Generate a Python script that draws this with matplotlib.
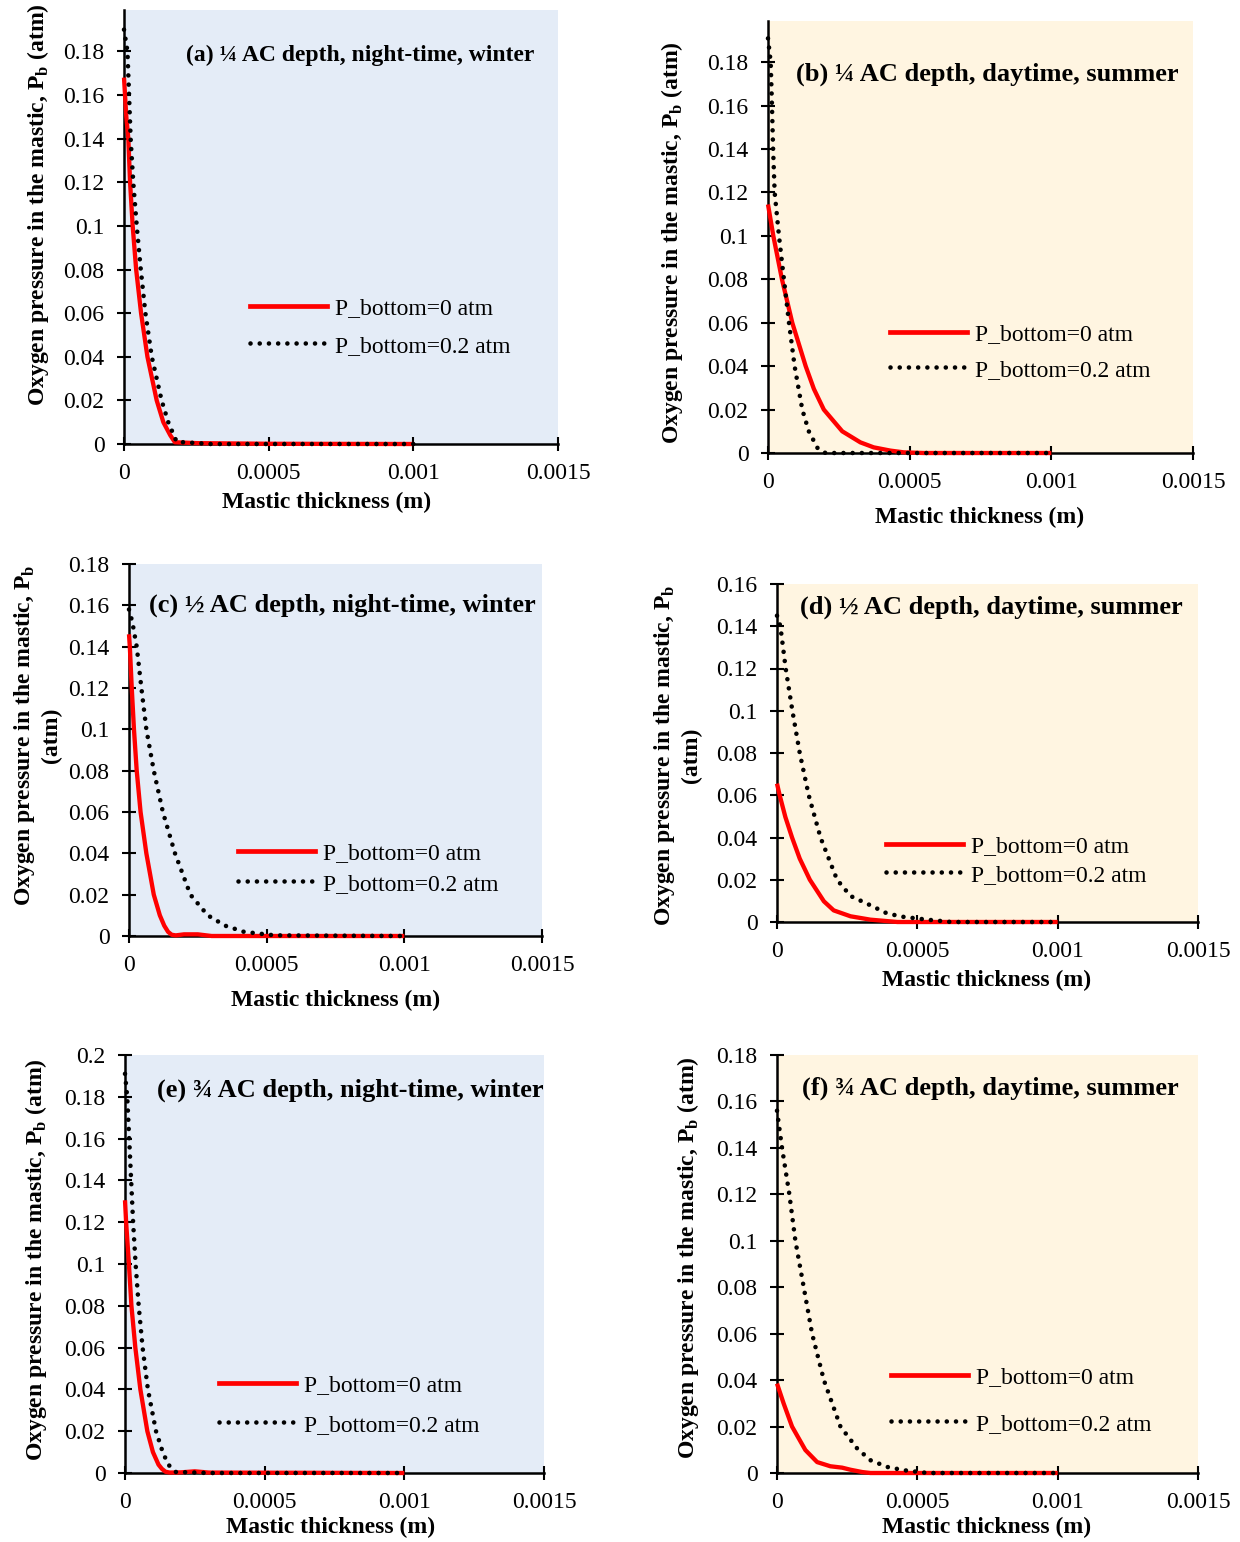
import numpy as np
import matplotlib
matplotlib.use('Agg')
import matplotlib.pyplot as plt
from matplotlib.lines import Line2D

plt.rcParams['font.family'] = ['Liberation Serif', 'DejaVu Serif']
plt.rcParams['mathtext.fontset'] = 'custom'
plt.rcParams['mathtext.rm'] = 'Liberation Serif'
plt.rcParams['mathtext.bf'] = 'Liberation Serif:bold'

W, H = 1240, 1542
FS = 17

# ---- data (x in m, P in atm) ----
red_x_a = [0, 0.000008, 0.000015, 0.000021, 0.00003, 0.000042, 0.000059, 0.000081, 0.000113, 0.000136, 0.00016, 0.000176, 0.00025, 0.0005, 0.001]
red_y_a = [0.168, 0.15, 0.14, 0.12, 0.10, 0.08, 0.06, 0.04, 0.02, 0.01, 0.004, 0.0008, 0.0004, 0.0001, 0]
blk_x_a = [0, 0.000012, 0.000023, 0.000032, 0.000044, 0.000058, 0.000074, 0.000096, 0.00013, 0.000153, 0.000182, 0.0003, 0.0006, 0.001]
blk_y_a = [0.19, 0.18, 0.14, 0.12, 0.10, 0.08, 0.06, 0.04, 0.02, 0.01, 0.001, 0, 0, 0]

red_x_b = [0, 0.0000188, 0.0000493, 0.0000857, 0.000133, 0.000162, 0.000197, 0.000262, 0.000326, 0.000373, 0.000432, 0.000479, 0.00055, 0.001]
red_y_b = [0.1145, 0.10, 0.08, 0.06, 0.04, 0.0295, 0.02, 0.01, 0.0049, 0.0026, 0.0011, 0.0003, 0, 0]
blk_x_b = [0, 0.0000095, 0.000014, 0.000018, 0.0000235, 0.0000387, 0.0000563, 0.000074, 0.0000939, 0.000121, 0.000144, 0.000176, 0.000203, 0.0003, 0.001]
blk_y_b = [0.191, 0.18, 0.16, 0.14, 0.12, 0.10, 0.08, 0.06, 0.04, 0.02, 0.01, 0.002, 0, 0, 0]

red_x_c = [0, 0.000003, 0.00001, 0.000018, 0.000028, 0.000042, 0.000063, 0.00009, 0.000112, 0.000128, 0.000142, 0.000155, 0.00017, 0.0002, 0.00025, 0.0003, 0.001]
red_y_c = [0.146, 0.14, 0.12, 0.10, 0.08, 0.06, 0.04, 0.02, 0.01, 0.005, 0.002, 0.0006, 0.0003, 0.0008, 0.0008, 0, 0]
blk_x_c = [0, 0.000012, 0.000028, 0.000045, 0.000063, 0.00009, 0.000123, 0.000167, 0.000223, 0.000286, 0.000349, 0.000418, 0.00053, 0.001]
blk_y_c = [0.158, 0.152, 0.14, 0.12, 0.10, 0.08, 0.06, 0.04, 0.02, 0.01, 0.005, 0.002, 0.0003, 0]

red_x_d = [0, 0.0000095, 0.0000298, 0.0000536, 0.000081, 0.000117, 0.000167, 0.000202, 0.000262, 0.000333, 0.000429, 0.001]
red_y_d = [0.0655, 0.06, 0.0497, 0.04, 0.03, 0.02, 0.0098, 0.0055, 0.0027, 0.0011, 0, 0]
blk_x_d = [0, 0.000012, 0.000031, 0.0000548, 0.000081, 0.000113, 0.000155, 0.000214, 0.000262, 0.000333, 0.000393, 0.000452, 0.000536, 0.00062, 0.001]
blk_y_d = [0.145, 0.14, 0.12, 0.10, 0.08, 0.06, 0.04, 0.02, 0.0123, 0.0079, 0.004, 0.0024, 0.0011, 0, 0]

red_x_e = [0, 0.000004, 0.000014, 0.000023, 0.000037, 0.000055, 0.00008, 0.0001, 0.00012, 0.000132, 0.000145, 0.00016, 0.0002, 0.00025, 0.0003, 0.001]
red_y_e = [0.1305, 0.12, 0.10, 0.08, 0.06, 0.04, 0.02, 0.01, 0.004, 0.002, 0.0006, 0.0002, 0.0003, 0.0008, 0.0002, 0]
blk_x_e = [0, 0.000008, 0.000015, 0.000022, 0.000029, 0.000038, 0.000049, 0.000063, 0.000082, 0.000111, 0.000135, 0.000155, 0.000182, 0.0003, 0.001]
blk_y_e = [0.191, 0.18, 0.16, 0.14, 0.12, 0.10, 0.08, 0.06, 0.04, 0.02, 0.01, 0.004, 0.0005, 0, 0]

red_x_f = [0, 0.0000238, 0.0000536, 0.000101, 0.000143, 0.00019, 0.000232, 0.000262, 0.000304, 0.000333, 0.001]
red_y_f = [0.0385, 0.0299, 0.02, 0.0099, 0.0047, 0.0029, 0.0023, 0.0014, 0.0004, 0, 0]
blk_x_f = [0, 0.0000179, 0.000044, 0.0000655, 0.0000952, 0.000125, 0.000167, 0.000226, 0.000286, 0.000333, 0.000393, 0.000452, 0.000536, 0.001]
blk_y_f = [0.156, 0.14, 0.12, 0.10, 0.08, 0.06, 0.04, 0.02, 0.0105, 0.0055, 0.0026, 0.0012, 0, 0]

x_ticks = [0, 0.0005, 0.001, 0.0015]
legend_labels = ['P_bottom=0 atm', 'P_bottom=0.2 atm']
titles = ['(a) \u00bc AC depth, night-time, winter',
          '(b) \u00bc AC depth, daytime, summer',
          '(c) \u00bd AC depth, night-time, winter',
          '(d) \u00bd AC depth, daytime, summer',
          '(e) \u00be AC depth, night-time, winter',
          '(f) \u00be AC depth, daytime, summer']
ylab1 = r'Oxygen pressure in the mastic, P$_\mathbf{b}$ (atm)'
ylab2 = 'Oxygen pressure in the mastic, P$_\\mathbf{b}$\n(atm)'
xlab = 'Mastic thickness (m)'

BLUE = '#E4ECF7'
CREAM = '#FFF5E1'

# layout in pixels: axes box (L, R, T, B), y max, y tick max, bg,
# title centre + size, ylabel centre, xlabel centre, legend (x, y of first row), row gap
panels = [
    dict(rx=red_x_a, ry=red_y_a, bx=blk_x_a, by=blk_y_a, box=(124, 558, 10, 444), ymax=0.199, ytop=0.18, bg=BLUE,
         title=(360, 55), tfs=17, ylab=ylab1, ylpos=(38, 205), xlpos=(327, 502), leg=(250, 307), gap=38),
    dict(rx=red_x_b, ry=red_y_b, bx=blk_x_b, by=blk_y_b, box=(768, 1193, 21, 453), ymax=0.199, ytop=0.18, bg=CREAM,
         title=(987, 74), tfs=19, ylab=ylab1, ylpos=(672, 243), xlpos=(980, 517), leg=(890, 333), gap=36),
    dict(rx=red_x_c, ry=red_y_c, bx=blk_x_c, by=blk_y_c, box=(129, 542, 564, 936), ymax=0.18, ytop=0.18, bg=BLUE,
         title=(342, 605), tfs=19, ylab=ylab2, ylpos=(37, 735), xlpos=(336, 1000), leg=(238, 852), gap=31),
    dict(rx=red_x_d, ry=red_y_d, bx=blk_x_d, by=blk_y_d, box=(777, 1198, 584, 922), ymax=0.16, ytop=0.16, bg=CREAM,
         title=(991, 607), tfs=19, ylab=ylab2, ylpos=(677, 755), xlpos=(987, 980), leg=(886, 845), gap=29),
    dict(rx=red_x_e, ry=red_y_e, bx=blk_x_e, by=blk_y_e, box=(125, 544, 1055, 1473), ymax=0.2, ytop=0.2, bg=BLUE,
         title=(350, 1090), tfs=19, ylab=ylab1, ylpos=(36, 1260), xlpos=(331, 1527), leg=(219, 1384), gap=40),
    dict(rx=red_x_f, ry=red_y_f, bx=blk_x_f, by=blk_y_f, box=(777, 1198, 1055, 1473), ymax=0.18, ytop=0.18, bg=CREAM,
         title=(990, 1088), tfs=19, ylab=ylab1, ylpos=(688, 1258), xlpos=(987, 1527), leg=(891, 1376), gap=47),
]

DOTS = (0, (0.01, 2.0))


def fx(px):
    return px / W


def fy(py):
    return 1 - py / H


fig = plt.figure(figsize=(W / 100, H / 100), dpi=100)
fig.patch.set_facecolor('white')

for i, p in enumerate(panels):
    L, R, T, B = p['box']
    ax = fig.add_axes([fx(L), fy(B), (R - L) / W, (B - T) / H])
    ax.set_facecolor(p['bg'])
    ax.set_xlim(0, 0.0015)
    ax.set_ylim(0, p['ymax'])

    ax.plot(p['rx'], p['ry'], color='#FF0000', lw=3.1, zorder=4, clip_on=False,
            solid_capstyle='butt', solid_joinstyle='round')
    ax.plot(p['bx'], p['by'], color='black', lw=3.3, zorder=5, clip_on=False,
            linestyle=DOTS, dash_capstyle='round')

    yt = np.round(np.arange(0, p['ytop'] + 1e-9, 0.02), 2)
    ax.set_yticks(yt)
    ax.set_yticklabels(['{:g}'.format(v) for v in yt])
    ax.set_xticks(x_ticks)
    ax.set_xticklabels(['{:g}'.format(v) for v in x_ticks])
    ax.tick_params(direction='inout', length=10, width=1.5, labelsize=FS)
    ax.tick_params(axis='y', pad=9)
    ax.tick_params(axis='x', pad=8.5)

    for s in ['top', 'right']:
        ax.spines[s].set_visible(False)
    for s in ['left', 'bottom']:
        ax.spines[s].set_linewidth(1.8)
        ax.spines[s].set_zorder(3)

    fig.text(fx(p['title'][0]), fy(p['title'][1]), titles[i], fontsize=p['tfs'], fontweight='bold',
             ha='center', va='center')
    fig.text(fx(p['ylpos'][0]), fy(p['ylpos'][1]), p['ylab'], fontsize=FS, fontweight='bold',
             rotation=90, ha='center', va='center', multialignment='center')
    fig.text(fx(p['xlpos'][0]), fy(p['xlpos'][1]), xlab, fontsize=FS, fontweight='bold',
             ha='center', va='center')

    lx, ly = p['leg']
    h_red = Line2D([], [], color='#FF0000', lw=3.4)
    h_blk = Line2D([], [], color='black', lw=3.3, linestyle=DOTS, dash_capstyle='round')
    spacing = (p['gap'] - 22.5) / 23.6
    ax.legend([h_red, h_blk], legend_labels, loc='upper left',
              bbox_to_anchor=(fx(lx), fy(ly - 9)), bbox_transform=fig.transFigure,
              frameon=False, fontsize=FS, handlelength=3.25, handletextpad=0.35,
              borderpad=0, borderaxespad=0, labelspacing=max(spacing, 0.0))

fig.savefig('out.png', dpi=100)
